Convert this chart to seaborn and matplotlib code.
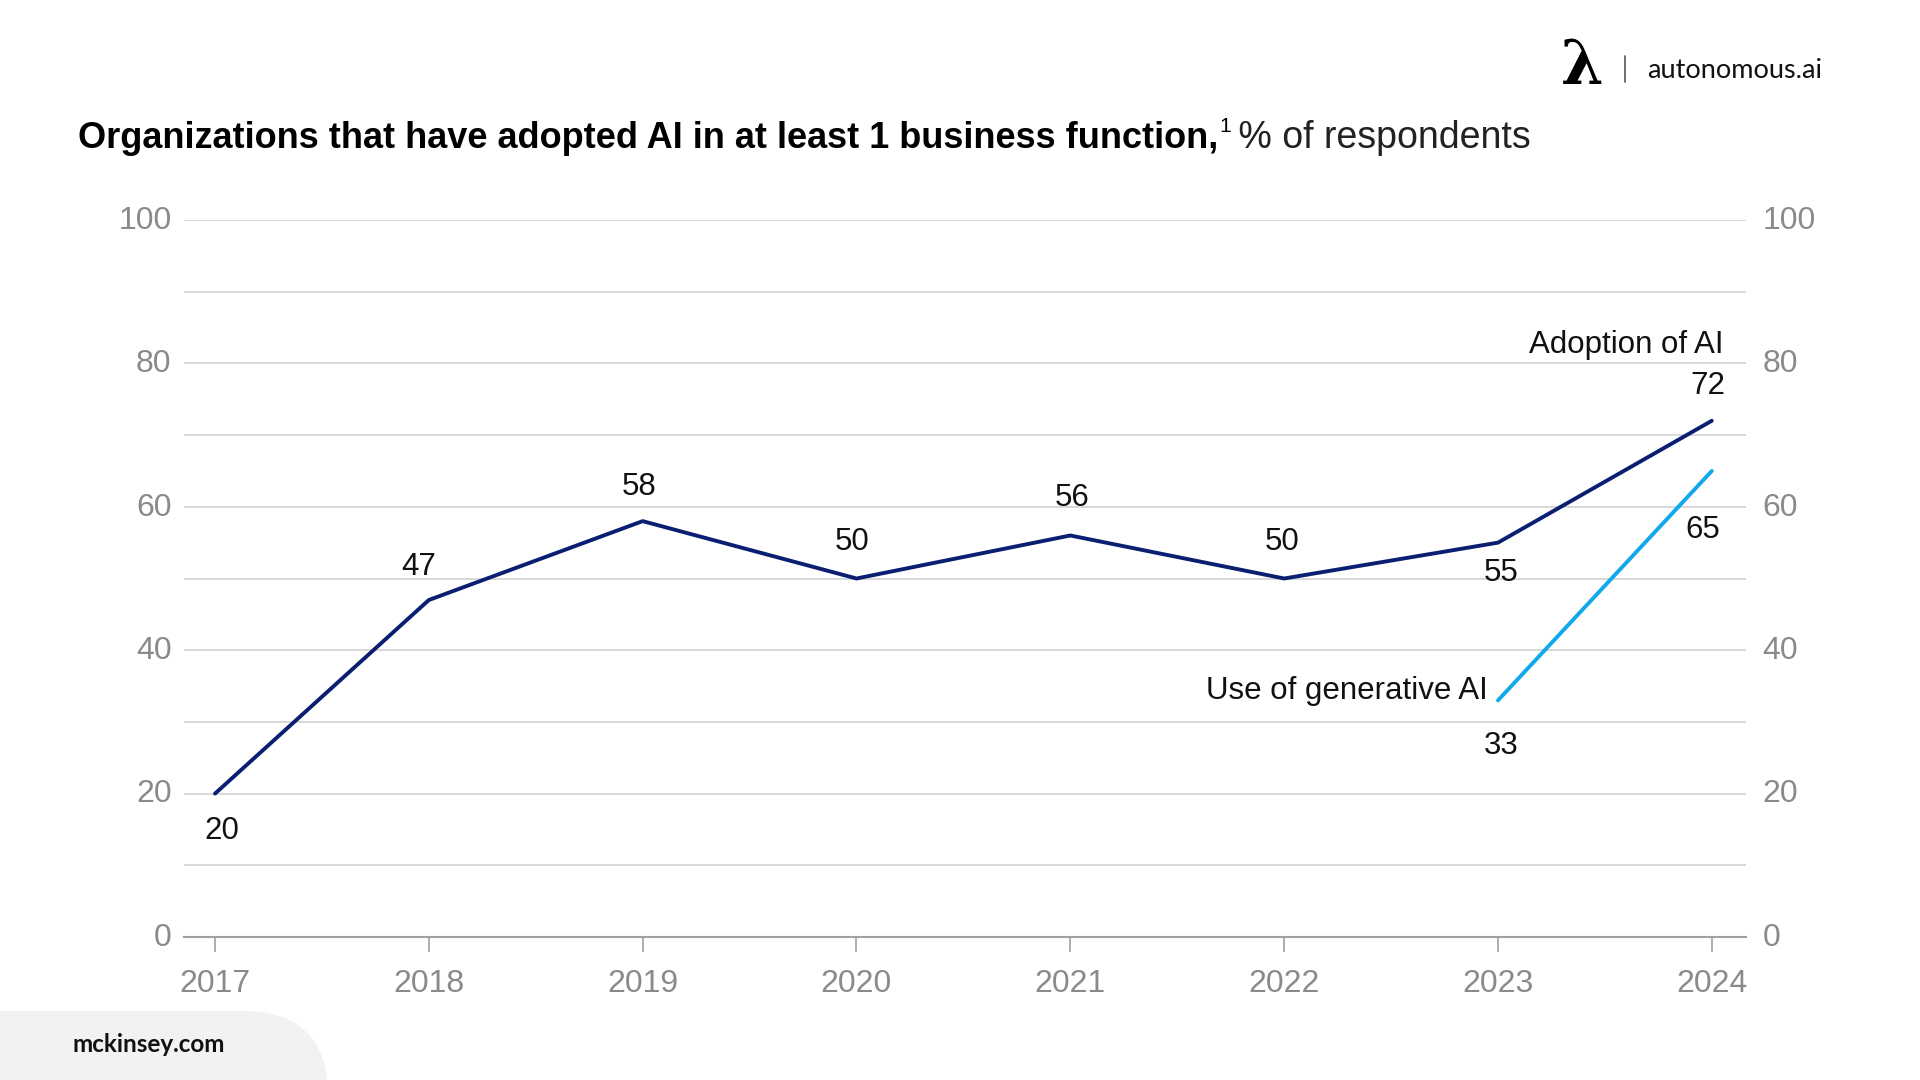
import matplotlib
matplotlib.use("Agg")
import matplotlib.pyplot as plt
import matplotlib.patches as mpatches
import matplotlib.transforms as mtrans
import seaborn as sns
import pandas as pd

# ---- data ----
years = [2017, 2018, 2019, 2020, 2021, 2022, 2023, 2024]
adoption = [20, 47, 58, 50, 56, 50, 55, 72]
genai_years = [2023, 2024]
genai = [33, 65]
yticks = [0, 20, 40, 60, 80, 100]
series_names = ["Adoption of AI", "Use of generative AI"]

title_bold = "Organizations that have adopted AI in at least 1 business function,"
title_sup = "1"
title_rest = " % of respondents"

df = pd.DataFrame({
    "year": years + genai_years,
    "value": adoption + genai,
    "series": [series_names[0]] * len(years) + [series_names[1]] * len(genai_years),
})

sns.set_theme(style="white")
plt.rcParams["font.family"] = ["Liberation Sans", "DejaVu Sans"]

W, H = 1920, 1080
fig = plt.figure(figsize=(19.2, 10.8), dpi=100)
fig.patch.set_facecolor("white")

left, right, top, bottom = 184, 1746, 220, 937
ax = fig.add_axes([left / W, 1 - bottom / H, (right - left) / W, (bottom - top) / H])

navy = "#0b1f72"
light = "#12a8ec"
grey_txt = "#8a8a8a"
lab_fs = 22.5
tick_fs = 23

sns.lineplot(data=df, x="year", y="value", hue="series",
             palette={series_names[0]: navy, series_names[1]: light},
             linewidth=2.8, legend=False, ax=ax, zorder=3)

ax.set_xlim(2016.855, 2024.16)
ax.set_ylim(0, 100)
ax.set_xlabel("")
ax.set_ylabel("")

# grid
ax.set_yticks(yticks)
ax.grid(False)
for v in range(10, 101, 10):
    ax.axhline(v, color="#d2d2d2", lw=1.2, zorder=1)

for s in ["top", "right", "left"]:
    ax.spines[s].set_visible(False)
ax.spines["bottom"].set_color("#a0a0a0")
ax.spines["bottom"].set_linewidth(1.5)

ax.set_xticks(years)
ax.set_xticklabels([str(y) for y in years])
ax.tick_params(axis="x", direction="out", length=11, width=1.2, color="#a0a0a0",
               labelsize=tick_fs, labelcolor=grey_txt, pad=12, bottom=True)
ax.tick_params(axis="y", which="both", length=0, labelsize=tick_fs, labelcolor=grey_txt, pad=9, left=True)
ax.set_yticklabels([str(v) for v in yticks])

ax2 = ax.twinx()
ax2.set_ylim(0, 100)
ax2.set_yticks(yticks)
ax2.set_yticklabels([str(v) for v in yticks])
ax2.tick_params(axis="y", length=0, labelsize=tick_fs, labelcolor=grey_txt, pad=12)
for s in ax2.spines.values():
    s.set_visible(False)
ax2.grid(False)

# nudge y tick labels slightly upward like the reference
shift = mtrans.ScaledTranslation(0, 2 / 72, fig.dpi_scale_trans)
for lab in ax.get_yticklabels() + ax2.get_yticklabels():
    lab.set_transform(lab.get_transform() + shift)

# data labels (offsets in pixels)
adopt_offsets = [(7, -37), (-10, 33), (-4, 34), (-4, 36), (2, 37), (-2, 36), (3, -30), (-4, 35)]
for x, v, (dx, dy) in zip(years, adoption, adopt_offsets):
    ax.annotate(str(v), (x, v), xytext=(dx, dy), textcoords="offset pixels",
                ha="center", va="center", fontsize=lab_fs, color="#111111")
genai_offsets = [(3, -46), (-9, -59)]
for x, v, (dx, dy) in zip(genai_years, genai, genai_offsets):
    ax.annotate(str(v), (x, v), xytext=(dx, dy), textcoords="offset pixels",
                ha="center", va="center", fontsize=lab_fs, color="#111111")

ax.annotate(series_names[0], (years[-1], adoption[-1]), xytext=(12, 76),
            textcoords="offset pixels", ha="right", va="center", fontsize=lab_fs, color="#111111")
ax.annotate(series_names[1], (genai_years[0], genai[0]), xytext=(-10, 9),
            textcoords="offset pixels", ha="right", va="center", fontsize=lab_fs, color="#111111")

# title pieces
renderer = fig.canvas.get_renderer()
ty = 1 - 138 / H
t1 = fig.text(78 / W, ty, title_bold, fontsize=26, fontweight="bold", color="#000000",
              ha="left", va="center")
bb = t1.get_window_extent(renderer)
t2 = fig.text((bb.x1 + 1) / W, ty + 12 / H, title_sup, fontsize=15, color="#000000",
              ha="left", va="center")
bb2 = t2.get_window_extent(renderer)
fig.text((bb2.x1 - 3) / W, ty, title_rest, fontsize=27, color="#222222",
         ha="left", va="center")

# logo top right
fig.text(1582 / W, 1 - 67 / H, "λ", fontsize=44, fontweight="bold", color="#000000",
         ha="center", va="center", family=["DejaVu Serif"])
fig.add_artist(plt.Line2D([1625 / W, 1625 / W], [1 - 56 / H, 1 - 82 / H],
                          transform=fig.transFigure, color="#555555", lw=1.2))
fig.text(1647 / W, 1 - 70 / H, "autonomous.ai", fontsize=19.5, color="#111111",
         ha="left", va="center", family=["Lato", "DejaVu Sans"])

# bottom-left source tab
tab = mpatches.FancyBboxPatch((-120, -120), 120 + 328, 120 + (H - 1011),
                              boxstyle="round,pad=0,rounding_size=85",
                              transform=mtrans.IdentityTransform(),
                              facecolor="#f2f2f2", edgecolor="none", zorder=0)
fig.add_artist(tab)
fig.text(73 / W, 1 - 1044 / H, "mckinsey.com", fontsize=17.5, fontweight="bold",
         color="#111111", ha="left", va="center", family=["Lato", "DejaVu Sans"], zorder=2)

fig.savefig("out.png", dpi=100, facecolor="white")
